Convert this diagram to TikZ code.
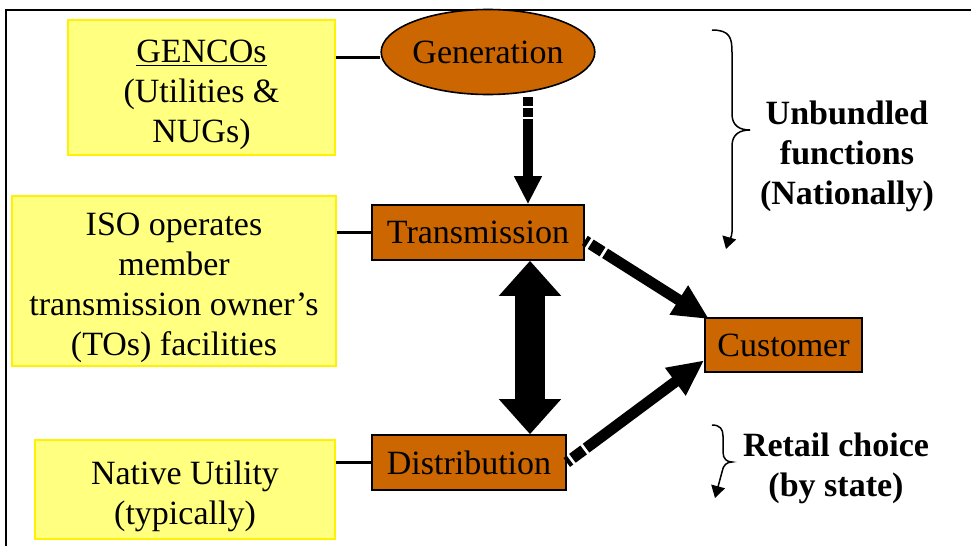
\documentclass[tikz,border=0pt]{standalone}
\usepackage{fontspec}
\setmainfont{Liberation Serif}
\usetikzlibrary{arrows.meta,shapes.geometric,calc}

\definecolor{rust}{HTML}{CC6600}
\definecolor{paleyellow}{HTML}{FFFF80}
\newcommand{\tallstrut}{\rule{0pt}{18.5pt}}

\tikzset{
  every node/.style={font=\fontsize{17}{20}\selectfont, align=center, inner sep=0pt},
  note/.style={draw=yellow, fill=paleyellow, line width=0.6pt},
  func/.style={draw=black, fill=rust, line width=0.8pt},
  link/.style={line width=1.5pt},
  flow/.style={line width=5.5pt, -{Triangle[width=16pt,length=18pt]},
    dash pattern=on 2pt off 1.5pt on 7pt off 1.5pt on 400pt},
  curly/.style={line width=0.75pt, -{Triangle[width=7pt,length=6pt]}}
}

\begin{document}
\begin{tikzpicture}[x=0.5pt,y=-0.5pt]
        \useasboundingbox (0,0) rectangle (971,546);
        \draw[line width=1pt] (6,546) -- (6,10) -- (971,10);

        % boxes on the left
        \node[note, minimum width=133.5pt, minimum height=67.5pt] (gencos) at (201.5,87.5)
        {\tallstrut\underline{GENCOs}\\(Utilities \&\\NUGs)};
        \node[note, minimum width=162pt, minimum height=85pt] (iso) at (174,281)
        {\tallstrut ISO operates\\member\\transmission owner’s\\(TOs) facilities};
        \node[note, minimum width=150pt, minimum height=49.5pt] (native) at (185,489.5)
        {\tallstrut Native Utility\\(typically)};

        % functions
        \node[func, ellipse, minimum width=103pt, minimum height=42.5pt] (gen) at (488,52) {Generation};
        \node[func, minimum width=106pt, minimum height=27.5pt] (trans) at (478,232.5) {Transmission};
        \node[func, minimum width=97pt, minimum height=27.5pt] (dist) at (469,462.5) {Distribution};
        \node[func, minimum width=78.5pt, minimum height=27pt] (cust) at (783.5,345) {Customer};

        \draw[link] (gencos.east |- 0,57) -- (gen.west |- 0,57);
        \draw[link] (iso.east |- trans.west) -- (trans.west);
        \draw[link] (native.east |- dist.west) -- (dist.west);

        \draw[line width=5pt, -{Triangle[width=13pt,length=14pt]},
          dash pattern=on 4.5pt off 0.8pt on 4.5pt off 0.8pt on 200pt]
          ([xshift=20pt,yshift=-1pt]gen.south) -- ([xshift=25pt]trans.north);
        \draw[line width=15pt, {Triangle[width=30pt,length=17.5pt]}-{Triangle[width=30pt,length=17.5pt]}]
          ([xshift=26pt]trans.south) -- ([xshift=30.5pt]dist.north);
        \draw[flow] ([yshift=-4pt]trans.east) -- ([xshift=2.5pt,yshift=-1pt]cust.north west);
        \draw[flow] (dist.east) -- ($(cust.west)!0.55!(cust.south west)$);

        % braces
        \draw[curly] (712,30) .. controls (730,30) and (732,38) .. (732,52) -- (732,114)
          .. controls (732,126) and (740,130) .. (750,130)
          .. controls (740,130) and (732,134) .. (732,146) -- (732,232)
          .. controls (732,238) and (728,242) .. (726,249);
        \node[font=\fontsize{17}{20}\selectfont\bfseries] (unbundled) at (847,156)
        {Unbundled\\functions\\(Nationally)};

        \draw[curly] (712,425) .. controls (720,425) and (723,429) .. (723,436) -- (723,452)
          .. controls (723,459) and (727,462) .. (732,462)
          .. controls (727,462) and (723,465) .. (722,472) -- (715,498);
        \node[font=\fontsize{17}{20}\selectfont\bfseries] (retail) at (836,468.5)
        {Retail choice\\(by state)};
\end{tikzpicture}
\end{document}
